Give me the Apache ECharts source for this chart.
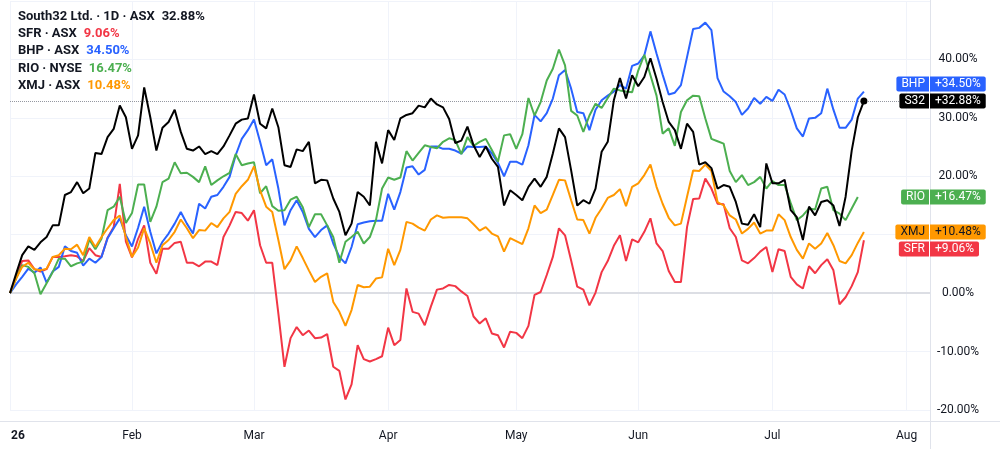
<!DOCTYPE html>
<html>
<head>
<meta charset="utf-8">
<script src="https://cdn.jsdelivr.net/npm/echarts@6/dist/echarts.min.js"></script>
<style>
  html, body { margin: 0; padding: 0; background: #fff; }
  #chart { width: 1000px; height: 449px; }
</style>
</head>
<body>
<div id="chart"></div>
<script>
// x axis: one slot per trading day, month labels on the first trading day
const monthNames = ["26", "Feb", "Mar", "Apr", "May", "Jun", "Jul", "Aug"];
const monthStarts = [0, 20, 40, 62, 83, 103, 125, 147];
const dayCount = 152;

// % change since start of year
const s32 = [0, 3.3, 6.5, 8.0, 7.4, 8.7, 9.6, 11.6, 11.6, 16.8,
  17.3, 19.0, 17.1, 17.9, 24.0, 23.8, 26.7, 28.1, 32.1, 30.1,
  24.7, 27.0, 35.2, 30.1, 24.4, 28.3, 29.3, 31.4, 27.6, 24.7,
  24.4, 25.1, 23.8, 24.3, 23.8, 25.1, 27.0, 29.0, 29.7, 29.9,
  34.0, 29.0, 28.2, 31.6, 28.4, 21.9, 21.6, 24.6, 24.3, 25.9,
  18.8, 19.4, 19.3, 16.2, 13.9, 9.9, 11.9, 17.3, 16.5, 15.0,
  25.9, 22.2, 27.9, 26.2, 29.9, 30.5, 30.8, 32.1, 31.8, 33.3,
  32.3, 31.8, 29.8, 25.7, 26.1, 28.5, 25.3, 23.3, 25.1, 23.0,
  21.6, 15.0, 17.6, 16.8, 15.9, 18.2, 19.6, 18.2, 19.9, 23.9,
  28.2, 26.7, 21.0, 15.0, 15.9, 15.3, 17.9, 24.2, 25.9, 33.0,
  36.8, 33.3, 37.3, 35.4, 37.0, 40.2, 36.7, 32.7, 29.3, 27.9,
  24.7, 29.0, 27.6, 22.0, 22.4, 21.4, 17.9, 18.5, 18.2, 15.6,
  11.9, 11.7, 13.5, 11.3, 22.2, 18.8, 18.8, 19.4, 14.2, 13.0,
  9.1, 14.8, 13.3, 15.6, 15.9, 15.0, 11.5, 16.5, 24.4, 30.1,
  32.88];

const sfr = [0, 2.8, 5.5, 5.6, 4.1, 3.7, 4.1, 6.2, 6.2, 6.3,
  6.5, 6.3, 5.5, 7.7, 6.5, 6.2, 9.5, 11.3, 18.7, 8.8,
  6.1, 9.3, 11.6, 5.2, 3.3, 7.6, 7.6, 8.6, 8.8, 5.2,
  5.2, 4.6, 5.4, 5.4, 4.8, 9.6, 11.6, 13.9, 13.7, 12.4,
  14.2, 8.2, 5.2, 5.2, -3.5, -12.6, -7.7, -5.8, -7.2, -6.4,
  -7.7, -7.6, -7.0, -12.6, -13.3, -18.2, -15.6, -8.9, -11.3, -11.7,
  -11.3, -10.8, -5.9, -8.9, -8.0, 0.8, -3.2, -3.5, -5.5, -2.3,
  0.6, 0.8, 1.4, 1.2, 0.3, -0.5, -4.0, -5.2, -4.3, -6.9,
  -7.2, -9.3, -6.6, -6.8, -7.7, -5.6, -0.3, 0.2, 3.1, 6.2,
  11.1, 9.9, 5.6, 1.1, 0.6, -2.1, 0.1, 3.6, 5.5, 8.1,
  9.9, 5.5, 9.2, 8.7, 10.5, 12.8, 8.5, 7.2, 3.8, 1.9,
  1.9, 11.3, 16.1, 16.2, 19.6, 17.9, 15.3, 15.2, 11.1, 9.6,
  5.6, 5.1, 6.0, 7.1, 7.9, 3.6, 7.5, 7.2, 2.8, 1.5,
  0.8, 4.6, 3.4, 4.8, 5.8, 3.9, -1.9, -0.7, 1.2, 3.6,
  9.06];

const bhp = [0, 1.5, 2.8, 4.2, 3.5, 4.4, 1.8, 3.7, 4.5, 8.0,
  7.2, 6.9, 4.7, 5.9, 5.2, 6.2, 9.4, 11.1, 12.8, 9.9,
  8.0, 11.2, 14.8, 10.5, 6.8, 8.8, 10.2, 11.9, 13.9, 11.9,
  10.2, 15.3, 14.5, 16.5, 16.8, 18.2, 19.9, 23.6, 26.4, 27.9,
  29.7, 25.9, 21.9, 22.9, 17.9, 11.6, 14.2, 15.9, 13.9, 11.0,
  9.6, 10.8, 11.6, 8.5, 6.2, 5.1, 7.9, 11.8, 12.1, 12.3,
  12.4, 12.4, 17.0, 14.3, 17.3, 21.5, 21.7, 20.3, 21.1, 25.1,
  25.1, 24.7, 24.7, 24.4, 23.9, 25.1, 25.0, 25.0, 25.1, 23.9,
  22.3, 20.0, 22.5, 22.5, 22.0, 25.3, 30.5, 29.4, 30.8, 33.3,
  37.3, 38.2, 35.0, 31.0, 30.8, 27.9, 31.4, 33.0, 33.8, 34.5,
  35.6, 35.0, 38.9, 39.3, 40.7, 44.8, 41.0, 37.4, 34.0, 34.3,
  35.6, 40.4, 45.2, 45.4, 46.3, 45.0, 36.8, 34.5, 33.7, 32.7,
  30.5, 31.6, 33.4, 32.4, 33.6, 32.9, 34.8, 34.0, 31.3, 28.2,
  26.8, 29.9, 30.0, 30.8, 35.0, 31.4, 28.3, 28.3, 29.7, 33.3,
  34.5];

// NYSE listing, one bar behind
const rio = [0, 2.5, 4.8, 4.5, 3.4, -0.2, 1.7, 3.6, 5.9, 5.9,
  4.6, 5.1, 5.4, 9.2, 7.5, 9.3, 14.2, 14.8, 16.5, 12.0,
  13.7, 18.6, 18.6, 12.2, 14.8, 19.0, 19.6, 22.4, 20.5, 20.6,
  19.9, 19.0, 21.7, 18.5, 19.3, 20.0, 20.6, 23.8, 21.9, 22.2,
  22.4, 17.1, 18.3, 14.9, 14.1, 14.2, 16.0, 16.5, 14.7, 11.3,
  13.5, 13.5, 11.6, 9.6, 5.2, 8.8, 9.6, 10.5, 8.5, 9.6,
  12.5, 17.9, 19.8, 19.4, 19.8, 24.3, 22.7, 24.0, 25.3, 25.0,
  24.8, 25.9, 26.5, 26.2, 23.8, 26.7, 25.2, 25.9, 26.4, 24.5,
  22.5, 27.0, 27.2, 24.7, 27.2, 33.4, 30.4, 32.7, 36.4, 38.4,
  41.7, 39.0, 31.2, 30.4, 27.6, 30.4, 32.4, 31.7, 33.4, 35.0,
  34.7, 34.5, 34.4, 38.1, 40.8, 37.3, 33.8, 27.3, 28.2, 25.2,
  31.0, 33.0, 33.8, 33.7, 29.9, 26.4, 26.0, 25.6, 20.9, 19.0,
  20.2, 18.5, 19.0, 19.9, 17.9, 19.2, 18.5, 18.5, 15.4, 12.5,
  13.3, 14.5, 14.3, 17.9, 18.2, 14.2, 13.6, 12.5, 14.5, 16.47];

const xmj = [0, 2.5, 4.5, 5.2, 4.1, 3.9, 4.2, 6.2, 6.5, 7.6,
  7.5, 8.3, 6.5, 9.6, 7.9, 9.6, 11.1, 12.5, 13.3, 9.6,
  6.2, 7.8, 11.1, 8.5, 5.2, 8.2, 9.1, 10.5, 12.6, 11.1,
  9.4, 10.8, 10.7, 12.0, 11.3, 12.8, 13.9, 17.0, 18.3, 19.4,
  21.7, 17.6, 14.8, 13.9, 9.1, 4.1, 5.6, 8.0, 6.0, 3.9,
  1.9, 2.8, 3.4, -1.5, -3.2, -5.6, -2.9, 1.4, 1.0, 1.1,
  2.5, 2.7, 7.6, 4.8, 7.4, 12.2, 11.9, 11.2, 10.7, 12.6,
  13.3, 12.9, 13.0, 13.0, 13.0, 12.8, 11.8, 10.7, 11.3, 10.2,
  9.7, 7.1, 9.4, 8.9, 8.4, 11.1, 15.0, 13.7, 14.3, 16.8,
  19.4, 19.3, 15.9, 12.6, 12.5, 10.2, 12.9, 14.5, 16.3, 16.8,
  17.8, 14.9, 18.2, 18.8, 20.2, 22.0, 18.2, 15.3, 12.9, 11.6,
  11.9, 16.5, 21.0, 20.9, 22.0, 20.9, 15.6, 15.0, 13.3, 12.6,
  10.2, 11.0, 12.1, 10.2, 10.7, 10.7, 13.5, 12.5, 9.6, 7.4,
  5.9, 8.5, 7.6, 8.5, 10.3, 8.2, 5.5, 5.1, 6.5, 8.6,
  10.48];

const symbols = [
  { tag: "S32", legend: "South32 Ltd. · 1D · ASX", data: s32, color: "#000000", text: "#ffffff", valueColor: "#131722" },
  { tag: "SFR", legend: "SFR · ASX", data: sfr, color: "#f23645", text: "#ffffff" },
  { tag: "BHP", legend: "BHP · ASX", data: bhp, color: "#2962ff", text: "#ffffff" },
  { tag: "RIO", legend: "RIO · NYSE", data: rio, color: "#4caf50", text: "#ffffff" },
  { tag: "XMJ", legend: "XMJ · ASX", data: xmj, color: "#ff9800", text: "#131722" },
];

const FONT = "Roboto, 'Liberation Sans', sans-serif";
const last = (arr) => arr[arr.length - 1];
const pct = (v) => v.toFixed(2) + "%";
const isMonth = (i) => monthStarts.indexOf(i) >= 0;

const chart = echarts.init(document.getElementById("chart"));

const series = [];
// main symbol drawn last so it sits on top
[1, 2, 3, 4, 0].forEach((k) => {
  const s = symbols[k];
  const item = {
    name: s.tag,
    type: "line",
    data: s.data,
    showSymbol: false,
    symbol: "none",
    lineStyle: { color: s.color, width: 2 },
    itemStyle: { color: s.color },
    emphasis: { disabled: true },
    z: k === 0 ? 5 : 3,
  };
  if (k === 0) {
    item.markLine = {
      silent: true,
      symbol: ["none", "none"],
      label: { show: false },
      data: [
        { yAxis: last(s.data), lineStyle: { type: "dotted", color: "#9598a1", width: 1 } },
        { yAxis: 0, lineStyle: { type: "solid", color: "#dcdee4", width: 2 } },
      ],
      z: 1,
    };
    item.markPoint = {
      silent: true,
      symbol: "circle",
      symbolSize: 7,
      itemStyle: { color: s.color },
      label: { show: false },
      data: [{ coord: [s.data.length - 1, last(s.data)] }],
    };
  }
  series.push(item);
});

const legendTitles = symbols.map((s, k) => ({
  left: 18,
  top: 10 + k * 17.3,
  padding: 0,
  text: "{n|" + s.legend + "}{v|" + pct(last(s.data)) + "}",
  textStyle: {
    rich: {
      n: { color: "#131722", fontSize: 13, fontFamily: FONT },
      v: { color: s.valueColor || s.color, fontSize: 13, fontFamily: FONT, padding: [0, 0, 0, 7] },
    },
  },
}));

chart.setOption({
  animation: false,
  backgroundColor: "#ffffff",
  title: legendTitles,
  grid: { left: 10, right: 69, top: 1, bottom: 39 },
  xAxis: {
    type: "category",
    boundaryGap: false,
    data: Array.from({ length: dayCount }, (_, i) => i),
    offset: 11,
    axisLine: { show: false },
    axisTick: { show: false },
    axisLabel: {
      interval: (i) => isMonth(i),
      formatter: (v, i) => (i === 0 ? "{b|" + monthNames[0] + "}" : monthNames[monthStarts.indexOf(i)]),
      color: "#131722",
      fontSize: 12,
      fontFamily: FONT,
      margin: 9,
      rich: { b: { fontWeight: "bold", fontSize: 12, fontFamily: FONT, color: "#131722", padding: [0, 0, 0, 16] } },
    },
    splitLine: { show: true, interval: (i) => isMonth(i), lineStyle: { color: "#f0f3fa", width: 1 } },
  },
  yAxis: {
    type: "value",
    position: "right",
    min: -20,
    max: 50,
    interval: 10,
    axisLine: { show: false },
    axisTick: { show: false },
    axisLabel: {
      showMaxLabel: false,
      formatter: (v) => pct(v),
      align: "center",
      margin: 27,
      color: "#131722",
      fontSize: 12,
      fontFamily: FONT,
    },
    splitLine: { lineStyle: { color: "#f0f3fa", width: 1 } },
  },
  series: series,
});

// frame lines of the pane and price scale
const graphics = [
  { type: "line", shape: { x1: 930.5, y1: 0, x2: 930.5, y2: 449 }, style: { stroke: "#e0e3eb", lineWidth: 1 }, z: 10, silent: true },
  { type: "line", shape: { x1: 0, y1: 421.5, x2: 1000, y2: 421.5 }, style: { stroke: "#e0e3eb", lineWidth: 1 }, z: 10, silent: true },
];

// last-value tags on the price scale, pushed apart when they collide
const tagPriority = [0, 4, 3, 2, 1];
const placed = [];
tagPriority.forEach((k) => {
  const s = symbols[k];
  let y = chart.convertToPixel({ yAxisIndex: 0 }, last(s.data));
  let moved = true;
  while (moved) {
    moved = false;
    placed.forEach((p) => {
      if (Math.abs(y - p) < 17) {
        y = y < p ? p - 17 : p + 17;
        moved = true;
      }
    });
  }
  placed.push(y);
  const v = last(s.data);
  graphics.push({
    type: "text",
    x: 929,
    y: y,
    z: 20,
    silent: true,
    style: {
      text: s.tag,
      fill: s.text,
      font: "12px " + FONT,
      align: "right",
      verticalAlign: "middle",
      backgroundColor: s.color,
      padding: [2, 4, 1, 5],
      borderRadius: [2, 0, 0, 2],
    },
  });
  graphics.push({
    type: "text",
    x: 930,
    y: y,
    z: 20,
    silent: true,
    style: {
      text: (v >= 0 ? "+" : "") + pct(v),
      fill: s.text,
      font: "12px " + FONT,
      align: "left",
      verticalAlign: "middle",
      backgroundColor: s.color,
      padding: [2, 5, 1, 5],
      borderRadius: [0, 2, 2, 0],
    },
  });
});

chart.setOption({ graphic: graphics });
</script>
</body>
</html>
